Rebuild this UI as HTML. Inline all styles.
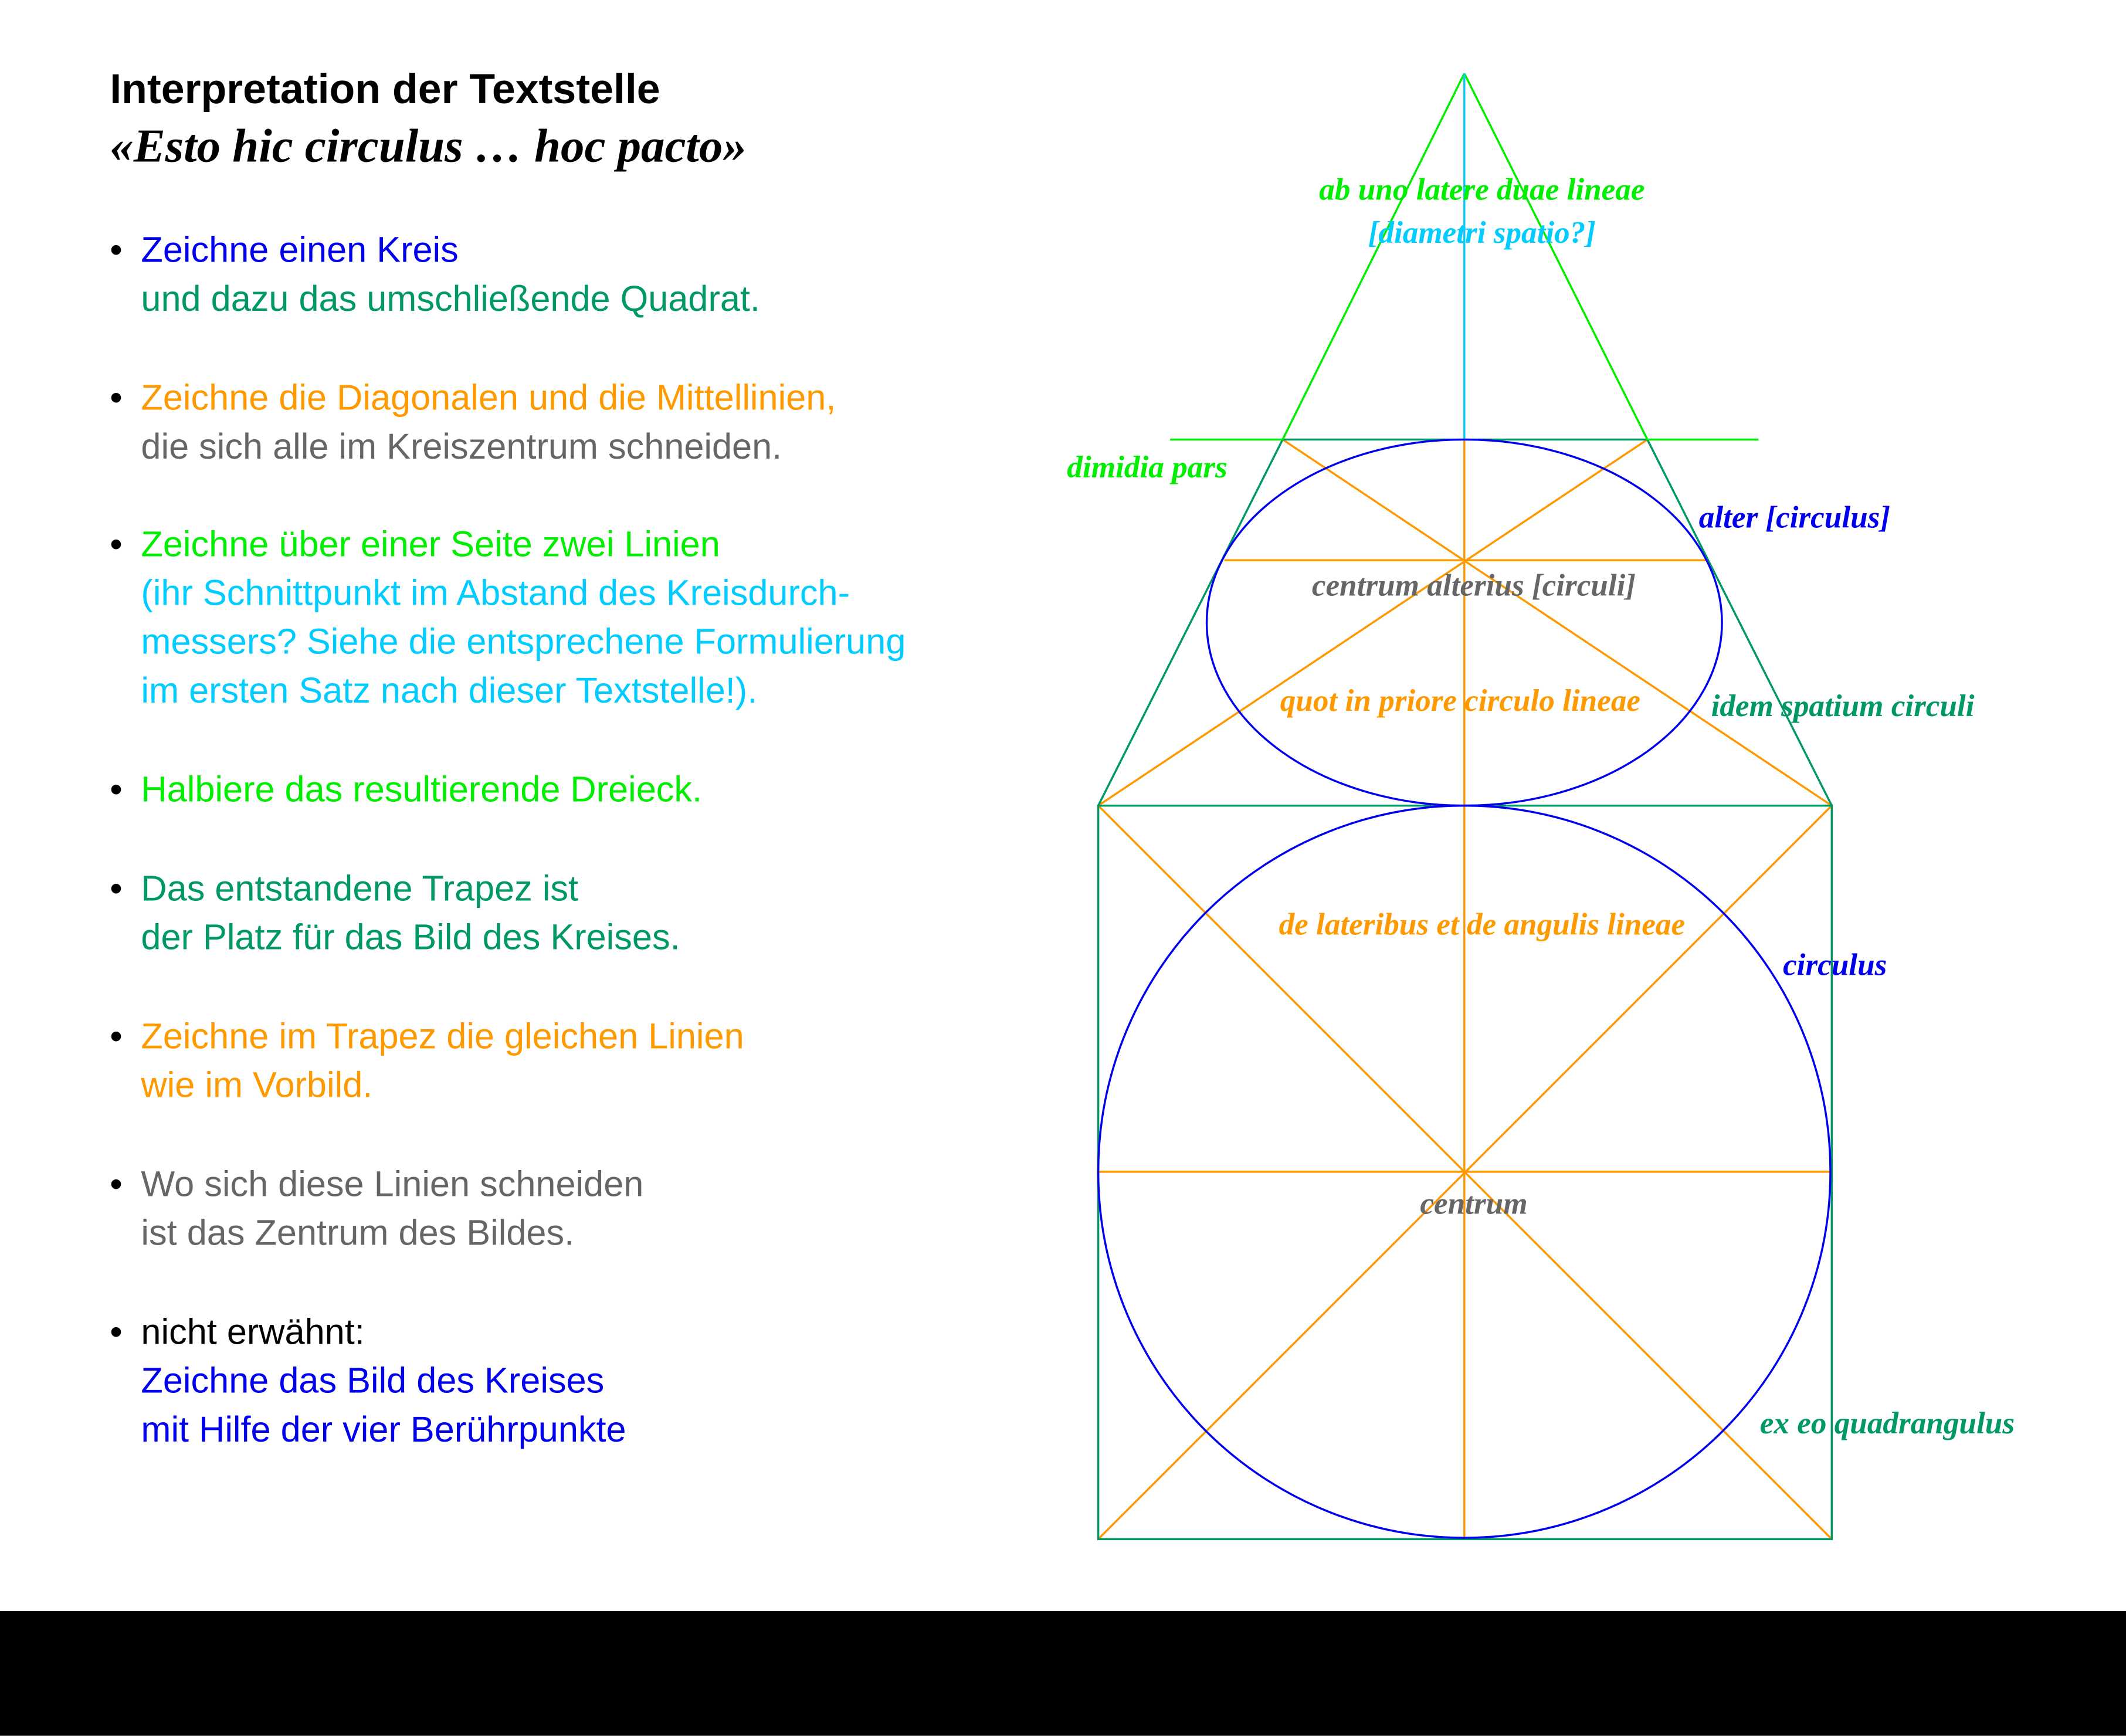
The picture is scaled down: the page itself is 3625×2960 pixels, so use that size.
<!DOCTYPE html>
<html><head><meta charset="utf-8"><style>
html,body{margin:0;padding:0;background:#fff;}
svg{display:block;}
.s{font-family:"Liberation Sans",sans-serif;font-size:26.5px;}
.i{font-family:"Liberation Serif",serif;font-style:italic;font-weight:bold;font-size:23px;}
</style></head><body>
<svg width="3625" height="2960" viewBox="0 0 1568 1280" xmlns="http://www.w3.org/2000/svg">
<rect x="0" y="0" width="1568" height="1280" fill="#fff"/>
<rect x="0" y="1188" width="1568" height="92" fill="#000"/>
<g fill="none" stroke-width="1.5">
<g stroke="#ff9900">
<line x1="810" y1="594" x2="1351" y2="1135"/>
<line x1="1351" y1="594" x2="810" y2="1135"/>
<line x1="810" y1="864" x2="1351" y2="864"/>
<line x1="1080" y1="594" x2="1080" y2="1135"/>
<line x1="946" y1="324" x2="1351" y2="594"/>
<line x1="1215" y1="324" x2="810" y2="594"/>
<line x1="903" y1="413" x2="1259" y2="413"/>
<line x1="1080" y1="324" x2="1080" y2="594"/>
</g>
<rect x="810" y="594" width="541" height="541" stroke="#009966"/>
<line x1="810" y1="594" x2="946" y2="324" stroke="#009966"/>
<line x1="1351" y1="594" x2="1215" y2="324" stroke="#009966"/>
<line x1="946" y1="324" x2="1215" y2="324" stroke="#009966"/>
<line x1="946" y1="324" x2="1080" y2="54" stroke="#00ee00"/>
<line x1="1215" y1="324" x2="1080" y2="54" stroke="#00ee00"/>
<line x1="863" y1="324" x2="946" y2="324" stroke="#00ee00"/>
<line x1="1215" y1="324" x2="1297" y2="324" stroke="#00ee00"/>
<line x1="1080" y1="54" x2="1080" y2="324" stroke="#00ccff"/>
<circle cx="1080" cy="864" r="270" stroke="#0000ee"/>
<ellipse cx="1080" cy="459" rx="190" ry="135" stroke="#0000ee"/>
</g>
<g class="i">
<text x="1093" y="147" fill="#00ee00" text-anchor="middle">ab uno latere duae lineae</text>
<text x="1093" y="179" fill="#00ccff" text-anchor="middle">[diametri spatio?]</text>
<text x="787" y="352" fill="#00ee00">dimidia pars</text>
<text x="1253" y="389" fill="#0000ee">alter [circulus]</text>
<text x="1087" y="439" fill="#666" text-anchor="middle">centrum alterius [circuli]</text>
<text x="1077" y="524" fill="#ff9900" text-anchor="middle">quot in priore circulo lineae</text>
<text x="1262" y="528" fill="#009966">idem spatium circuli</text>
<text x="1093" y="689" fill="#ff9900" text-anchor="middle">de lateribus et de angulis lineae</text>
<text x="1315" y="719" fill="#0000ee">circulus</text>
<text x="1087" y="895" fill="#666" text-anchor="middle">centrum</text>
<text x="1298" y="1057" fill="#009966">ex eo quadrangulus</text>
</g>
<text x="81" y="76" font-family="Liberation Sans,sans-serif" font-weight="bold" font-size="31">Interpretation der Textstelle</text>
<text x="81" y="119" font-family="Liberation Serif,serif" font-style="italic" font-weight="bold" font-size="35">«Esto hic circulus … hoc pacto»</text>
<g class="s">
<text x="81" y="193">•</text><text x="104" y="193" fill="#0000ee">Zeichne einen Kreis</text>
<text x="104" y="229" fill="#009966">und dazu das umschließende Quadrat.</text>
<text x="81" y="302">•</text><text x="104" y="302" fill="#ff9900">Zeichne die Diagonalen und die Mittellinien,</text>
<text x="104" y="338" fill="#666">die sich alle im Kreiszentrum schneiden.</text>
<text x="81" y="410">•</text><text x="104" y="410" fill="#00ee00">Zeichne über einer Seite zwei Linien</text>
<text x="104" y="446" fill="#00ccff">(ihr Schnittpunkt im Abstand des Kreisdurch-</text>
<text x="104" y="482" fill="#00ccff">messers? Siehe die entsprechene Formulierung</text>
<text x="104" y="518" fill="#00ccff">im ersten Satz nach dieser Textstelle!).</text>
<text x="81" y="591">•</text><text x="104" y="591" fill="#00ee00">Halbiere das resultierende Dreieck.</text>
<text x="81" y="664">•</text><text x="104" y="664" fill="#009966">Das entstandene Trapez ist</text>
<text x="104" y="700" fill="#009966">der Platz für das Bild des Kreises.</text>
<text x="81" y="773">•</text><text x="104" y="773" fill="#ff9900">Zeichne im Trapez die gleichen Linien</text>
<text x="104" y="809" fill="#ff9900">wie im Vorbild.</text>
<text x="81" y="882">•</text><text x="104" y="882" fill="#666">Wo sich diese Linien schneiden</text>
<text x="104" y="918" fill="#666">ist das Zentrum des Bildes.</text>
<text x="81" y="991">•</text><text x="104" y="991" fill="#000">nicht erwähnt:</text>
<text x="104" y="1027" fill="#0000ee">Zeichne das Bild des Kreises</text>
<text x="104" y="1063" fill="#0000ee">mit Hilfe der vier Berührpunkte</text>
</g>
</svg>
</body></html>
